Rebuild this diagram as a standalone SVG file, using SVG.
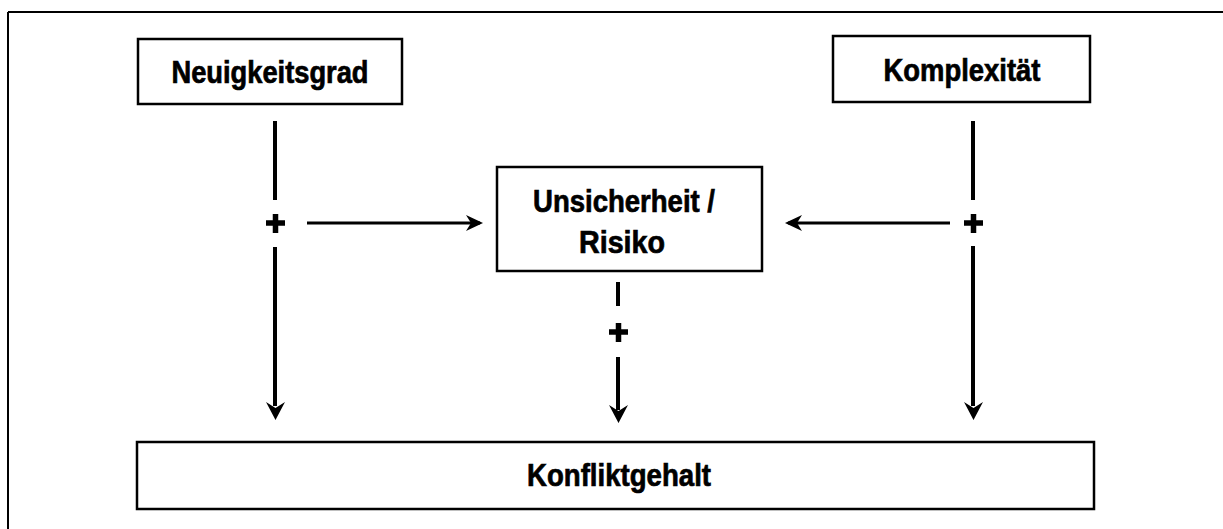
<svg xmlns="http://www.w3.org/2000/svg" width="1223" height="529" viewBox="0 0 1223 529">
<defs>
<style>
.box{fill:#fff;stroke:#000;stroke-width:2.5}
.lbl{font-family:"Liberation Sans",Arial,sans-serif;font-weight:bold;font-size:31px;fill:#000;stroke:#000;stroke-width:0.7;text-anchor:middle}
.v{stroke:#000;stroke-width:4;fill:none}
.h{stroke:#000;stroke-width:3;fill:none}
.plus{stroke:#000;stroke-width:5.5;fill:none}
.frame{stroke:#000;stroke-width:2;fill:none}
.head{fill:#000}
</style>
</defs>
<rect width="1223" height="529" fill="#fff"/>
<g id="frame">
<path class="frame" d="M8,12 H1223 M8,12 V529"/>
</g>
<g id="neuigkeitsgrad">
<rect class="box" x="138" y="39" width="264" height="65"/>
<text class="lbl" x="270" y="83" textLength="197" lengthAdjust="spacingAndGlyphs">Neuigkeitsgrad</text>
</g>
<g id="komplexitaet">
<rect class="box" x="833" y="36" width="257" height="66"/>
<text class="lbl" x="962" y="81" textLength="157" lengthAdjust="spacingAndGlyphs">Komplexität</text>
</g>
<g id="unsicherheit">
<rect class="box" x="497" y="167" width="265" height="104"/>
<text class="lbl" x="624" y="212" textLength="182" lengthAdjust="spacingAndGlyphs">Unsicherheit /</text>
<text class="lbl" x="622" y="253" textLength="86" lengthAdjust="spacingAndGlyphs">Risiko</text>
</g>
<g id="konfliktgehalt">
<rect class="box" x="137" y="442" width="957" height="67"/>
<text class="lbl" x="619" y="486" textLength="184" lengthAdjust="spacingAndGlyphs">Konfliktgehalt</text>
</g>
<g id="connectors">
<path class="v" d="M275,121 V200 M275,247 V406"/>
<path class="plus" d="M266,223 H285 M275.5,214 V233"/>
<path class="head" d="M266,402 L275.5,420 L285,402 L275.5,408 Z"/>
<path class="v" d="M973,121 V200 M973,246 V406"/>
<path class="plus" d="M964,223 H983 M973.5,214 V233"/>
<path class="head" d="M964,402 L973.5,420 L983,402 L973.5,408 Z"/>
<path class="v" d="M618,282 V306 M618,357 V410"/>
<path class="plus" d="M609,332 H628 M618.5,323 V342"/>
<path class="head" d="M609,405 L618.5,423 L628,405 L618.5,411 Z"/>
<path class="h" d="M307,223 H480"/>
<path class="head" d="M466,215 L483,223 L466,231 L471,223 Z"/>
<path class="h" d="M950,223 H788"/>
<path class="head" d="M802,215 L785,223 L802,231 L797,223 Z"/>
</g>
</svg>
